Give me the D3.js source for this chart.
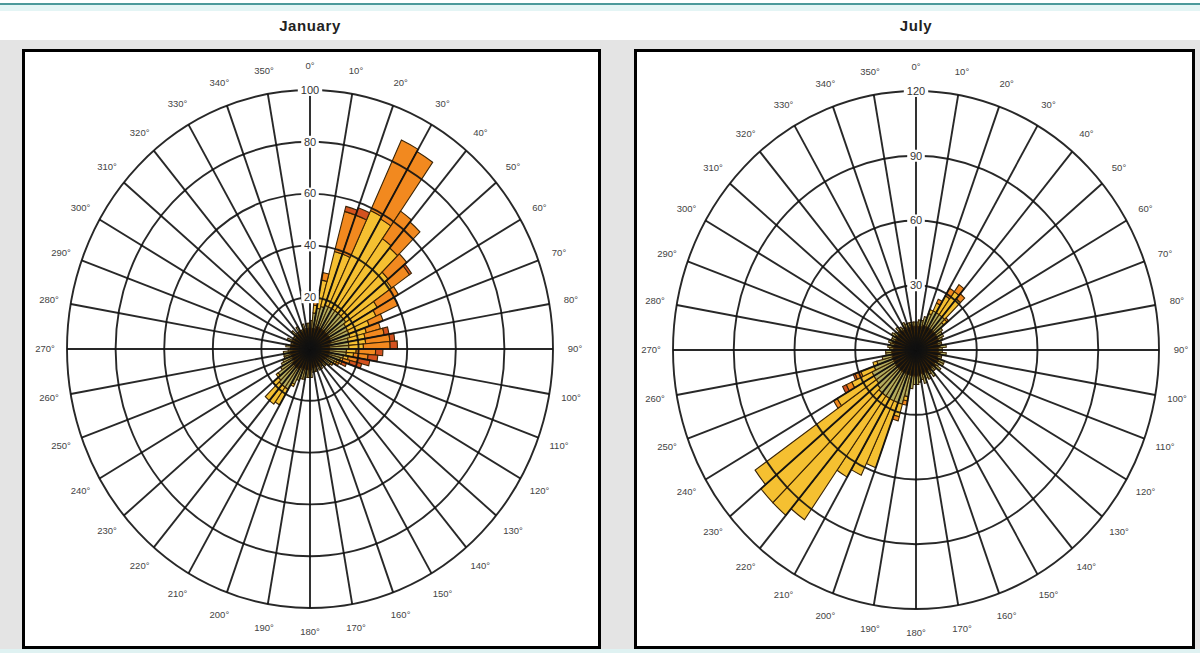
<!DOCTYPE html>
<html>
<head>
<meta charset="utf-8">
<script src="https://cdn.jsdelivr.net/npm/d3@7"></script>
<style>
  body { margin: 0; background: #fff; }
  svg { display: block; font-family: "Liberation Sans", Arial, sans-serif; }
</style>
</head>
<body>
<svg id="chart" width="1200" height="653"></svg>
<script>
// direction bins (5 degree wide, start angle) and compass tick labels
const binStarts = d3.range(0, 360, 5);
const degreeTicks = d3.range(0, 360, 10);

// speed classes, drawn from the centre outwards
const speedClasses = ["c1", "c2", "c3", "c4", "c5"];
const classColors = ["#141414", "#b2ac5e", "#f5c031", "#f2891f", "#d4521f"];

// January, one value per bin for each speed class
const janC1 = [8,8,8,9,9,9,9,9,9,9,9,9, 9,9,9,8,8,8,8,8,8,8,8,7, 7,7,7,7,6,7,7,6,7,7,7,8,
               8,8,8,8,8,8,9,9,9,9,9,8, 8,8,8,8,8,7,7,8,7,7,8,7, 7,7,8,7,7,8,7,7,8,7,8,8];
const janC2 = [3,6,8,8,9,9,9,9,9,9,9,8, 8,8,8,8,8,8,7,7,6,5,4,4, 3,3,2,2,2,2,2,1,2,2,2,3,
               3,3,4,4,5,7,9,9,9,8,7,6, 5,4,3,3,3,2,1,2,1,1,2,1, 1,1,2,1,1,2,1,1,2,1,2,2];
const janC3 = [0,3,11,22,21,41,40,34,33,24,23,15, 13,9,7,7,7,6,4,3,2,1,1,1, 1,0,0,0,0,0,0,0,0,0,0,0,
               0,0,0,0,0,1,7,8,8,3,1,0, 0,0,0,0,0,0,0,0,0,0,0,0, 0,0,0,0,0,0,0,0,0,0,0,0];
const janC4 = [0,3,3,16,16,30,30,13,13,10,9,10, 10,6,6,8,10,11,8,6,4,3,1,1, 0,0,0,0,0,0,0,0,0,0,0,0,
               0,0,0,0,0,0,0,0,0,0,0,0, 0,0,0,0,0,0,0,0,0,0,0,0, 0,0,0,0,0,0,0,0,0,0,0,0];
const janC5 = [0,2,0,2,3,0,0,0,0,0,1,0, 0,0,0,2,2,3,3,4,5,5,2,0, 0,0,0,0,0,0,0,0,0,0,0,0,
               0,0,0,0,0,0,0,0,0,0,0,0, 0,0,0,0,0,0,0,0,0,0,0,0, 0,0,0,0,0,0,0,0,0,0,0,0];

// July
const julC1 = [11,11,11,12,12,12,12,12,12,12,12,12, 12,12,11,11,12,11,11,12,11,11,12,12, 11,12,11,11,12,11,12,11,12,11,12,12,
               12,12,12,12,12,12,12,12,12,12,12,12, 12,12,12,12,12,12,11,12,11,12,11,11, 12,11,11,12,11,11,12,11,11,12,11,11];
const julC2 = [2,3,3,4,6,8,8,8,8,6,4,3, 3,2,2,2,3,2,2,3,2,2,3,3, 2,3,2,2,3,2,3,3,4,3,3,4,
               4,6,10,14,14,14,14,14,14,13,12,12, 12,10,8,5,3,3,2,2,2,2,2,2, 2,2,1,2,2,1,2,2,2,1,2,2];
const julC3 = [0,0,0,0,2,4,9,13,11,2,0,0, 0,0,0,0,0,0,0,0,0,0,0,0, 0,0,0,0,0,0,0,0,0,0,0,0,
               0,0,2,6,32,38,42,70,74,75,73,21, 11,7,2,0,0,0,0,0,0,0,0,0, 0,0,0,0,0,0,0,0,0,0,0,0];
const julC4 = [0,0,0,0,0,2,4,4,3,1,0,0, 0,0,0,0,0,0,0,0,0,0,0,0, 0,0,0,0,0,0,0,0,0,0,0,0,
               0,0,2,2,0,0,0,0,0,0,0,2, 3,3,0,0,0,0,0,0,0,0,0,0, 0,0,0,0,0,0,0,0,0,0,0,0];
const julC5 = [0,0,0,0,0,0,0,0,0,0,0,0, 0,0,0,0,0,0,0,0,0,0,0,0, 0,0,0,0,0,0,0,0,0,0,0,0,
               0,0,0,0,0,0,0,0,0,0,0,0, 2,1,0,0,0,0,0,0,0,0,0,0, 0,0,0,0,0,0,0,0,0,0,0,0];

const janTicks = [20, 40, 60, 80, 100];
const julTicks = [30, 60, 90, 120];

const svg = d3.select("#chart");

// page background: teal rule at top, grey area behind the panels
svg.append("rect").attr("width", 1200).attr("height", 653).attr("fill", "#fff");
svg.append("rect").attr("y", 5).attr("width", 1200).attr("height", 6).attr("fill", "#e4f5f5");
svg.append("rect").attr("y", 3).attr("width", 1200).attr("height", 2).attr("fill", "#4c9a9b");
svg.append("rect").attr("y", 40).attr("width", 1200).attr("height", 613).attr("fill", "#e4e4e4");

const panels = [
  { title: "January", x: 23, w: 576, cx: 310, cy: 349, max: 100, ticks: janTicks,
    series: [janC1, janC2, janC3, janC4, janC5] },
  { title: "July", x: 635, w: 558, cx: 916, cy: 350, max: 120, ticks: julTicks,
    series: [julC1, julC2, julC3, julC4, julC5] }
];

const R = 243;      // horizontal radius of the outer ring
const ky = 1.066;   // the original plots are slightly stretched vertically

const angle = d3.scaleLinear().domain([0, 360]).range([0, 2 * Math.PI]);

panels.forEach(p => {
  svg.append("text")
    .attr("x", p.cx).attr("y", 31)
    .attr("text-anchor", "middle")
    .style("font-size", "15px").style("font-weight", "bold")
    .style("letter-spacing", "0.6px").attr("fill", "#222")
    .text(p.title);

  svg.append("rect")
    .attr("x", p.x + 0.5).attr("y", 50.5).attr("width", p.w).attr("height", 597)
    .attr("fill", "#fff").attr("stroke", "#000").attr("stroke-width", 3);

  const r = d3.scaleLinear().domain([0, p.max]).range([0, R]);

  // rows for d3.stack
  const rows = binStarts.map((b, i) => {
    const row = { bin: b };
    speedClasses.forEach((k, j) => { row[k] = p.series[j][i]; });
    return row;
  });
  const stacked = d3.stack().keys(speedClasses)(rows);

  const plot = svg.append("g")
    .attr("transform", `translate(${p.cx},${p.cy}) scale(1,${ky})`);

  const arc = d3.arc()
    .innerRadius(d => r(d[0]))
    .outerRadius(d => r(d[1]))
    .startAngle(d => angle(d.data.bin))
    .endAngle(d => angle(d.data.bin + 5));

  plot.selectAll("g.layer")
    .data(stacked)
    .join("g")
    .attr("class", "layer")
    .attr("fill", (d, i) => classColors[i])
    .selectAll("path")
    .data(d => d.filter(s => s[1] > s[0]))
    .join("path")
    .attr("d", arc)
    .attr("stroke", "#3a2406")
    .attr("stroke-width", 1.1)
    .attr("vector-effect", "non-scaling-stroke");

  // grid on top of the bars
  const grid = plot.append("g")
    .attr("stroke", "#111").attr("stroke-width", 1.9)
    .attr("stroke-opacity", 0.9).attr("fill", "none");

  grid.selectAll("circle")
    .data(p.ticks)
    .join("circle")
    .attr("r", d => r(d))
    .attr("vector-effect", "non-scaling-stroke");

  grid.selectAll("line")
    .data(degreeTicks)
    .join("line")
    .attr("x1", 0).attr("y1", 0)
    .attr("x2", d => R * Math.sin(angle(d)))
    .attr("y2", d => -R * Math.cos(angle(d)))
    .attr("vector-effect", "non-scaling-stroke");

  // ring value labels along the 0 degree spoke
  const vals = svg.append("g").selectAll("g")
    .data(p.ticks)
    .join("g")
    .attr("transform", d => `translate(${p.cx},${p.cy - r(d) * ky})`);
  vals.append("rect")
    .attr("x", d => -String(d).length * 3.4 - 2).attr("y", -6)
    .attr("width", d => String(d).length * 6.8 + 4).attr("height", 12)
    .attr("fill", "#fff");
  vals.append("text")
    .attr("text-anchor", "middle").attr("dy", "0.35em")
    .style("font-size", "11px").attr("fill", "#333")
    .text(d => d);

  // compass labels
  svg.append("g").selectAll("text")
    .data(degreeTicks)
    .join("text")
    .attr("x", d => p.cx + (R + 22) * Math.sin(angle(d)))
    .attr("y", d => p.cy - (R * ky + 24) * Math.cos(angle(d)))
    .attr("text-anchor", "middle").attr("dy", "0.35em")
    .style("font-size", "9.5px").attr("fill", "#444")
    .text(d => d + "°");
});

svg.append("rect").attr("y", 649).attr("width", 1200).attr("height", 4).attr("fill", "#dff2f2");
</script>
</body>
</html>
